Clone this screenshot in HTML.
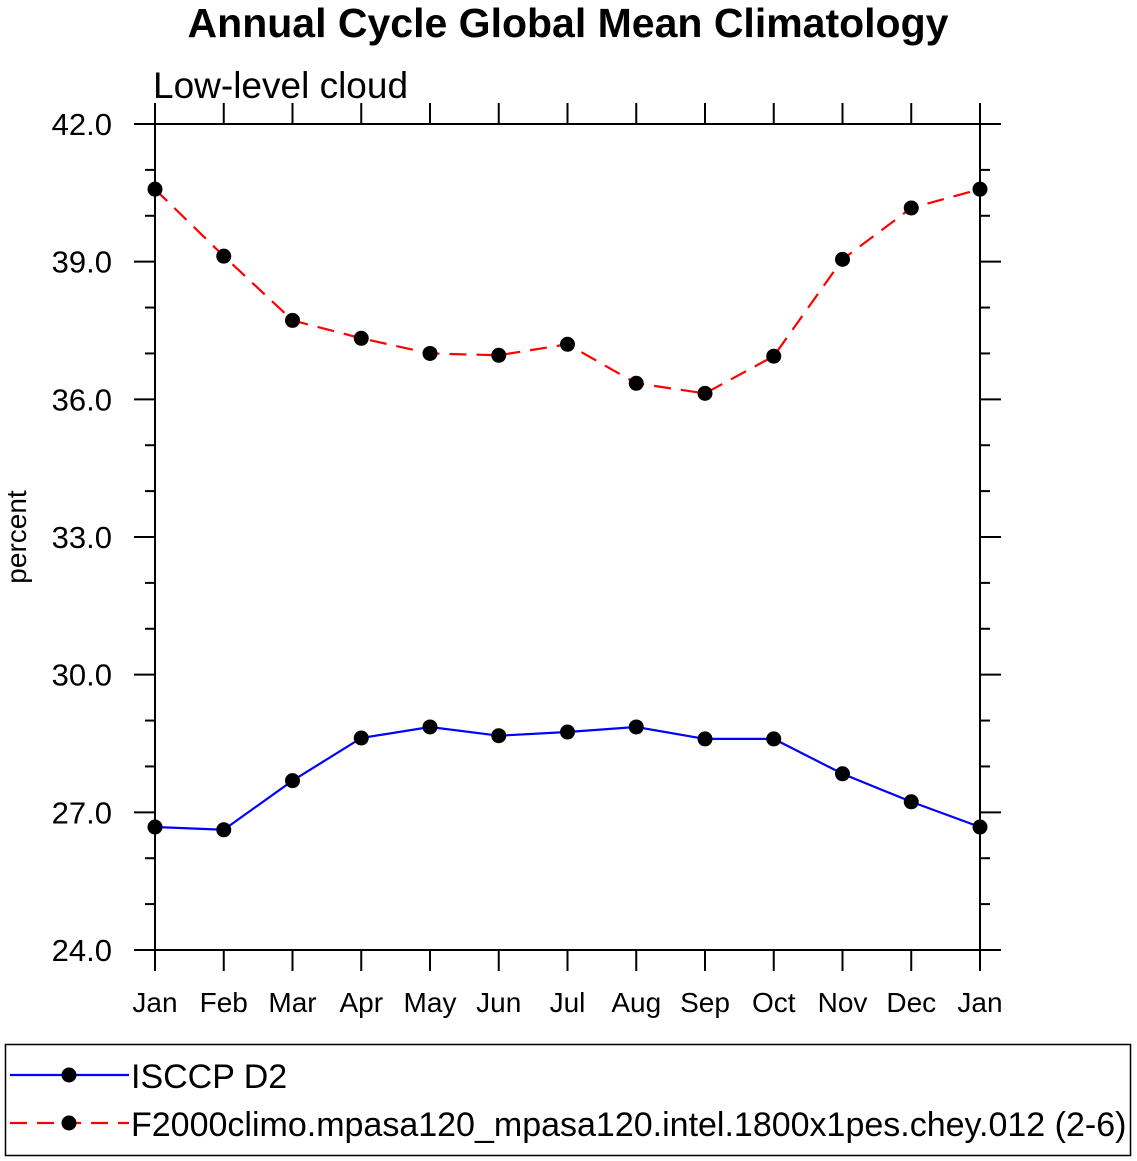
<!DOCTYPE html>
<html><head><meta charset="utf-8"><style>
html,body{margin:0;padding:0;background:#fff;}
svg{display:block;font-family:"Liberation Sans",Arial,sans-serif;}
</style></head><body>
<svg id="chart" width="1137" height="1161" viewBox="0 0 1137 1161" xmlns="http://www.w3.org/2000/svg">
<text x="568" y="37" text-anchor="middle" font-size="41" font-weight="bold">Annual Cycle Global Mean Climatology</text>
<text x="153" y="98" font-size="37">Low-level cloud</text>
<text transform="translate(26,537) rotate(-90)" text-anchor="middle" font-size="28">percent</text>
<g id="axes"></g>
<g id="series"></g>
<g>
<rect x="5.5" y="1044.5" width="1125" height="111" fill="none" stroke="#000" stroke-width="1.5"/>
<g>
<line x1="10" y1="1075" x2="129" y2="1075" stroke="#0000ff" stroke-width="2.2"/>
<circle cx="69" cy="1075" r="7.5"/>
<text x="131" y="1088" font-size="34">ISCCP D2</text>
</g>
<g>
<line x1="10" y1="1123" x2="129" y2="1123" stroke="#ff0000" stroke-width="2.2" stroke-dasharray="17,10"/>
<circle cx="69" cy="1123" r="7.5"/>
<text x="131" y="1136" font-size="34">F2000climo.mpasa120_mpasa120.intel.1800x1pes.chey.012 (2-6)</text>
</g>
</g>
</svg>
<script>
const months = ["Jan","Feb","Mar","Apr","May","Jun","Jul","Aug","Sep","Oct","Nov","Dec","Jan"];
const isccpValues = [26.68,26.62,27.69,28.62,28.86,28.67,28.75,28.86,28.6,28.6,27.84,27.23,26.68];
const modelValues = [40.58,39.12,37.72,37.33,37.0,36.96,37.2,36.35,36.13,36.94,39.05,40.17,40.58];
const yTickLabels = ["24.0","27.0","30.0","33.0","36.0","39.0","42.0"];
const yTickValues = [24,27,30,33,36,39,42];

const NS = "http://www.w3.org/2000/svg";
const L=155, R=980, T=124, B=950, yMin=24, yMax=42;
const xs = i => L + i*(R-L)/(months.length-1);
const ys = v => B - (v-yMin)/(yMax-yMin)*(B-T);
function mk(tag, attrs, parent){const e=document.createElementNS(NS,tag);for(const k in attrs)e.setAttribute(k,attrs[k]);parent.appendChild(e);return e;}
const axes=document.getElementById('axes');
const frame=mk('rect',{x:L,y:T,width:R-L,height:B-T,fill:'none',stroke:'#000','stroke-width':2},axes);


for(let v=yMin; v<=yMax; v+=1){
  const major = (v-yMin)%3===0;
  const len = major?21:10;
  const y=ys(v);
  const t1=mk('line',{x1:L-len,y1:y,x2:L,y2:y,stroke:'#000','stroke-width':2},axes);
  
  
  const t2=mk('line',{x1:R,y1:y,x2:R+len,y2:y,stroke:'#000','stroke-width':2},axes);
  
  
}
yTickValues.forEach((v,i)=>{
  const t=mk('text',{x:112,y:ys(v)+11,'text-anchor':'end','font-size':31},axes);
  
  
  t.textContent=yTickLabels[i];
});
months.forEach((m,i)=>{
  const x=xs(i);
  const a=mk('line',{x1:x,y1:B,x2:x,y2:B+21,stroke:'#000','stroke-width':2},axes);
  
  
  const b=mk('line',{x1:x,y1:T-21,x2:x,y2:T,stroke:'#000','stroke-width':2},axes);
  
  
  const t=mk('text',{x:x,y:1012,'text-anchor':'middle','font-size':28},axes);
  
  
  t.textContent=m;
});
const series=document.getElementById('series');
function drawSeries(vals,color,dash,name){
  const pts=vals.map((v,i)=>xs(i)+','+ys(v)).join(' ');
  const attrs={points:pts,fill:'none',stroke:color,'stroke-width':2.2};
  if(dash)attrs['stroke-dasharray']=dash;
  const p=mk('polyline',attrs,series);
  
  
  vals.forEach((v,i)=>{
    const c=mk('circle',{cx:xs(i),cy:ys(v),r:7.5,fill:'#000'},series);
    
    
  });
}
drawSeries(isccpValues,'#0000ff',null,'isccp');
drawSeries(modelValues,'#ff0000','17,10','model');
</script>
</body></html>
